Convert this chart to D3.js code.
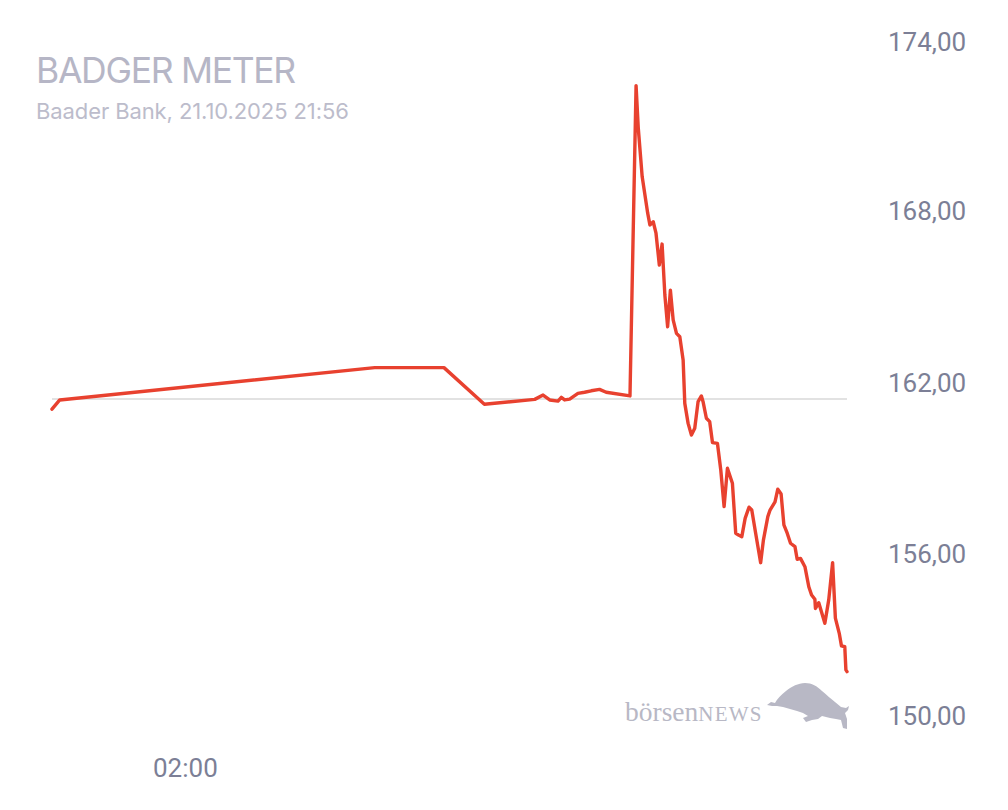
<!DOCTYPE html>
<html>
<head>
<meta charset="utf-8">
<script src="https://cdn.jsdelivr.net/npm/d3@7"></script>
<style>
  html, body { margin: 0; padding: 0; background: #ffffff; }
  svg { display: block; }
</style>
</head>
<body>
<svg id="chart" width="1008" height="810"></svg>
<script>
// ---------- data ----------
const title = "BADGER METER";
const subtitle = "Baader Bank, 21.10.2025 21:56";
const times = [
  "2025-10-20T22:00","2025-10-20T22:14","2025-10-21T07:43","2025-10-21T09:48","2025-10-21T11:01",
  "2025-10-21T12:32","2025-10-21T12:47","2025-10-21T12:59","2025-10-21T13:14","2025-10-21T13:20",
  "2025-10-21T13:26","2025-10-21T13:35","2025-10-21T13:50","2025-10-21T14:02","2025-10-21T14:14",
  "2025-10-21T14:29","2025-10-21T14:41","2025-10-21T15:24","2025-10-21T15:35","2025-10-21T15:39",
  "2025-10-21T15:46","2025-10-21T15:56","2025-10-21T16:00","2025-10-21T16:06","2025-10-21T16:11",
  "2025-10-21T16:17","2025-10-21T16:22","2025-10-21T16:27","2025-10-21T16:32","2025-10-21T16:37",
  "2025-10-21T16:42","2025-10-21T16:48","2025-10-21T16:54","2025-10-21T17:00","2025-10-21T17:03",
  "2025-10-21T17:09","2025-10-21T17:15","2025-10-21T17:21","2025-10-21T17:27","2025-10-21T17:33",
  "2025-10-21T17:36","2025-10-21T17:42","2025-10-21T17:48","2025-10-21T17:53","2025-10-21T18:02",
  "2025-10-21T18:08","2025-10-21T18:14","2025-10-21T18:20","2025-10-21T18:29","2025-10-21T18:35",
  "2025-10-21T18:40","2025-10-21T18:46","2025-10-21T18:52","2025-10-21T18:59","2025-10-21T19:04",
  "2025-10-21T19:11","2025-10-21T19:20","2025-10-21T19:25","2025-10-21T19:33","2025-10-21T19:37",
  "2025-10-21T19:46","2025-10-21T19:51","2025-10-21T19:57","2025-10-21T20:02","2025-10-21T20:08",
  "2025-10-21T20:14","2025-10-21T20:22","2025-10-21T20:26","2025-10-21T20:32","2025-10-21T20:40",
  "2025-10-21T20:47","2025-10-21T20:52","2025-10-21T20:58","2025-10-21T20:59","2025-10-21T21:05",
  "2025-10-21T21:16","2025-10-21T21:23","2025-10-21T21:30","2025-10-21T21:35","2025-10-21T21:42",
  "2025-10-21T21:46","2025-10-21T21:52","2025-10-21T21:54","2025-10-21T21:56"
];
const prices = [
  161.07,161.39,162.52,162.52,161.24,
  161.41,161.56,161.39,161.35,161.48,
  161.39,161.42,161.62,161.66,161.71,
  161.76,161.66,161.53,172.38,170.89,
  169.20,167.92,167.51,167.62,167.22,
  166.11,166.84,165.06,163.95,165.23,
  164.19,163.72,163.60,162.79,161.27,
  160.57,160.16,160.40,161.33,161.53,
  161.33,160.75,160.63,159.90,159.87,
  158.94,157.66,159.00,158.48,156.73,
  156.67,156.61,157.25,157.64,157.54,
  156.73,155.70,156.49,157.31,157.54,
  157.83,158.27,158.10,157.02,156.73,
  156.38,156.26,155.82,155.85,155.56,
  154.86,154.57,154.42,154.10,154.30,
  153.58,154.40,155.70,153.76,153.23,
  152.79,152.76,151.95,151.89
];
const previousClose = 161.42;
const yTicks = [150, 156, 162, 168, 174];
const xTickTimes = ["2025-10-21T02:00"];
const timeDomain = ["2025-10-20T22:00", "2025-10-21T21:56"];
const logoWord = "börsen";
const logoWord2 = "NEWS";

// ---------- setup ----------
const parse = d3.timeParse("%Y-%m-%dT%H:%M");
const data = times.map((t, i) => ({ t: parse(t), v: prices[i] }));

const svg = d3.select("#chart");
const x = d3.scaleTime().domain(timeDomain.map(parse)).range([52, 847]);
const y = d3.scaleLinear().domain([150, 174]).range([725.7, 39.3]);

const locale = d3.formatLocale({ decimal: ",", thousands: ".", grouping: [3], currency: ["", " €"] });
const fmt = locale.format(".2f");

// Title
svg.append("text")
  .attr("x", 36).attr("y", 83)
  .attr("font-family", "Inter, 'Noto Sans', sans-serif")
  .attr("font-size", 35.5)
  .attr("letter-spacing", -1.3)
  .attr("fill", "#b6b6c6")
  .text(title);

svg.append("text")
  .attr("x", 36).attr("y", 119)
  .attr("font-family", "Inter, 'Noto Sans', sans-serif")
  .attr("font-size", 22)
  .attr("letter-spacing", -0.1)
  .attr("fill", "#bcbccb")
  .text(subtitle);

// Previous close line
svg.append("line")
  .attr("x1", x(data[0].t)).attr("x2", 847)
  .attr("y1", y(previousClose)).attr("y2", y(previousClose))
  .attr("stroke", "#e2e2e2").attr("stroke-width", 2);

// Y axis (labels only)
const yAxis = d3.axisRight(y).tickValues(yTicks).tickSize(0).tickPadding(0).tickFormat(fmt);
const gy = svg.append("g").attr("transform", "translate(888,0)").call(yAxis);
gy.select(".domain").remove();
gy.selectAll(".tick text")
  .attr("font-family", "Roboto, sans-serif")
  .attr("font-size", 26)
  .attr("fill", "#7c7f96")
  .attr("x", 0)
  .attr("dy", "0.35em");
gy.selectAll(".tick").attr("transform", d => `translate(0,${Math.max(42, Math.min(716, y(d)))})`);

// X axis (labels only)
const xAxis = d3.axisBottom(x).tickValues(xTickTimes.map(parse)).tickSize(0).tickPadding(0)
  .tickFormat(d3.timeFormat("%H:%M"));
const gx = svg.append("g").attr("transform", "translate(0,757)").call(xAxis);
gx.select(".domain").remove();
gx.selectAll(".tick text")
  .attr("font-family", "Roboto, sans-serif")
  .attr("font-size", 26)
  .attr("fill", "#7c7f96")
  .attr("dy", "0.75em");

// Price line
const line = d3.line().x(d => x(d.t)).y(d => y(d.v));
svg.append("path")
  .datum(data)
  .attr("d", line)
  .attr("fill", "none")
  .attr("stroke", "#e8412f")
  .attr("stroke-width", 3.4)
  .attr("stroke-linejoin", "round")
  .attr("stroke-linecap", "round");

// Logo
const logo = svg.append("g").attr("fill", "#b8b8c5");
const lt = logo.append("text")
  .attr("x", 625).attr("y", 721)
  .attr("font-family", "'Liberation Serif', 'DejaVu Serif', serif")
  .attr("font-size", 27.5);
lt.append("tspan").text(logoWord);
lt.append("tspan").attr("font-size", 21).attr("letter-spacing", 1.2).text(logoWord2);

logo.append("path")
  .attr("d", "M767,705 L771,702 L775,703 C777,699 781,695 786,691 C792,686 798,683.5 805,683 C812,683 817,686 822,691 C827,695 831,699 835,702 L841,707 L846,708 L849,706 L848,710 L845,713 L847,719 L847,729 L843,728 L841,720 L836,719 L830,718 L822,716 L818,719 L812,720 L806,722 L803,718 L808,716 L803,713 L797,711 L790,709 L783,707 L777,706 L772,706 Z");
</script>
</body>
</html>
